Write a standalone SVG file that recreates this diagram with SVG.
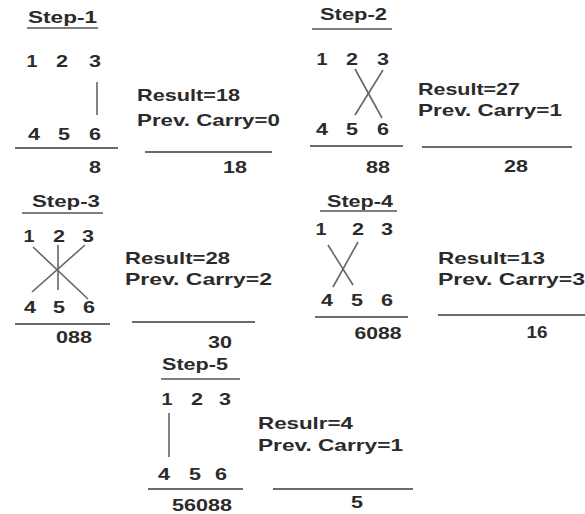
<svg xmlns="http://www.w3.org/2000/svg" width="585" height="514" viewBox="0 0 585 514">
<style>
text{font-family:"Liberation Sans",Arial,sans-serif;font-weight:bold;fill:#2b2b2b}
.st{font-size:16px}
.d{font-size:17px;text-anchor:middle}
.r{font-size:17px}
.n{font-size:17px;text-anchor:middle}
.hl{stroke:#3a3a3a;stroke-width:1.6;fill:none}
.ul{stroke:#555;stroke-width:1.4;fill:none}
.cl{stroke:#666;stroke-width:1.6;fill:none}
</style>
<rect width="585" height="514" fill="#fff"/>
<g id="step1">
<text class="st" x="28" y="23" textLength="69" lengthAdjust="spacingAndGlyphs">Step-1</text>
<line class="ul" x1="27" y1="28" x2="98" y2="28"/>
<text class="d" x="32" y="67" textLength="11" lengthAdjust="spacingAndGlyphs">1</text><text class="d" x="62" y="67" textLength="12" lengthAdjust="spacingAndGlyphs">2</text><text class="d" x="95" y="67" textLength="12" lengthAdjust="spacingAndGlyphs">3</text>
<line class="cl" x1="97" y1="82" x2="97" y2="115"/>
<text class="d" x="34" y="140" textLength="12" lengthAdjust="spacingAndGlyphs">4</text><text class="d" x="64" y="140" textLength="12" lengthAdjust="spacingAndGlyphs">5</text><text class="d" x="95" y="140" textLength="12" lengthAdjust="spacingAndGlyphs">6</text>
<line class="hl" x1="15" y1="148" x2="118" y2="148"/>
<text class="n" x="95" y="173" textLength="12" lengthAdjust="spacingAndGlyphs">8</text>
<text class="r" x="137" y="101" textLength="103" lengthAdjust="spacingAndGlyphs">Result=18</text>
<text class="r" x="137" y="126" textLength="143" lengthAdjust="spacingAndGlyphs">Prev. Carry=0</text>
<line class="hl" x1="145" y1="152" x2="272" y2="152"/>
<text class="n" x="235" y="173" textLength="24" lengthAdjust="spacingAndGlyphs">18</text>
</g>
<g id="step2">
<text class="st" x="320" y="20" textLength="67" lengthAdjust="spacingAndGlyphs">Step-2</text>
<line class="ul" x1="312" y1="29" x2="392" y2="29"/>
<text class="d" x="322" y="65" textLength="11" lengthAdjust="spacingAndGlyphs">1</text><text class="d" x="352" y="65" textLength="12" lengthAdjust="spacingAndGlyphs">2</text><text class="d" x="383" y="65" textLength="12" lengthAdjust="spacingAndGlyphs">3</text>
<line class="cl" x1="355" y1="69" x2="382" y2="118"/>
<line class="cl" x1="383" y1="70" x2="355" y2="115"/>
<text class="d" x="322" y="135" textLength="12" lengthAdjust="spacingAndGlyphs">4</text><text class="d" x="352" y="135" textLength="12" lengthAdjust="spacingAndGlyphs">5</text><text class="d" x="383" y="135" textLength="12" lengthAdjust="spacingAndGlyphs">6</text>
<line class="hl" x1="310" y1="146" x2="403" y2="146"/>
<text class="n" x="378" y="173" textLength="24" lengthAdjust="spacingAndGlyphs">88</text>
<text class="r" x="418" y="95" textLength="102" lengthAdjust="spacingAndGlyphs">Result=27</text>
<text class="r" x="418" y="116" textLength="144" lengthAdjust="spacingAndGlyphs">Prev. Carry=1</text>
<line class="hl" x1="422" y1="147" x2="572" y2="147"/>
<text class="n" x="516" y="172" textLength="24" lengthAdjust="spacingAndGlyphs">28</text>
</g>
<g id="step3">
<text class="st" x="32" y="207" textLength="68" lengthAdjust="spacingAndGlyphs">Step-3</text>
<line class="ul" x1="22" y1="213" x2="103" y2="213"/>
<text class="d" x="29" y="242" textLength="11" lengthAdjust="spacingAndGlyphs">1</text><text class="d" x="59" y="242" textLength="12" lengthAdjust="spacingAndGlyphs">2</text><text class="d" x="88" y="242" textLength="12" lengthAdjust="spacingAndGlyphs">3</text>
<line class="cl" x1="58" y1="245" x2="58" y2="290"/>
<line class="cl" x1="33" y1="247" x2="88" y2="299"/>
<line class="cl" x1="85" y1="245" x2="32" y2="292"/>
<text class="d" x="30" y="313" textLength="12" lengthAdjust="spacingAndGlyphs">4</text><text class="d" x="59" y="313" textLength="12" lengthAdjust="spacingAndGlyphs">5</text><text class="d" x="89" y="313" textLength="12" lengthAdjust="spacingAndGlyphs">6</text>
<line class="hl" x1="15" y1="324" x2="110" y2="324"/>
<text class="n" x="74" y="343" textLength="36" lengthAdjust="spacingAndGlyphs">088</text>
<text class="r" x="125" y="264" textLength="105" lengthAdjust="spacingAndGlyphs">Result=28</text>
<text class="r" x="125" y="285" textLength="147" lengthAdjust="spacingAndGlyphs">Prev. Carry=2</text>
<line class="hl" x1="132" y1="322" x2="255" y2="322"/>
<text class="n" x="220" y="348" textLength="24" lengthAdjust="spacingAndGlyphs">30</text>
</g>
<g id="step4">
<text class="st" x="327" y="207" textLength="66" lengthAdjust="spacingAndGlyphs">Step-4</text>
<line class="ul" x1="320" y1="211" x2="397" y2="211"/>
<text class="d" x="321" y="235" textLength="11" lengthAdjust="spacingAndGlyphs">1</text><text class="d" x="358" y="235" textLength="12" lengthAdjust="spacingAndGlyphs">2</text><text class="d" x="387" y="235" textLength="12" lengthAdjust="spacingAndGlyphs">3</text>
<line class="cl" x1="328" y1="245" x2="353" y2="285"/>
<line class="cl" x1="358" y1="242" x2="333" y2="287"/>
<text class="d" x="327" y="306" textLength="12" lengthAdjust="spacingAndGlyphs">4</text><text class="d" x="357" y="306" textLength="12" lengthAdjust="spacingAndGlyphs">5</text><text class="d" x="387" y="306" textLength="12" lengthAdjust="spacingAndGlyphs">6</text>
<line class="hl" x1="315" y1="317" x2="408" y2="317"/>
<text class="n" x="378" y="339" textLength="47" lengthAdjust="spacingAndGlyphs">6088</text>
<text class="r" x="438" y="264" textLength="107" lengthAdjust="spacingAndGlyphs">Result=13</text>
<text class="r" x="438" y="285" textLength="147" lengthAdjust="spacingAndGlyphs">Prev. Carry=3</text>
<line class="hl" x1="438" y1="315" x2="585" y2="315"/>
<text class="n" x="537" y="338" textLength="21" lengthAdjust="spacingAndGlyphs">16</text>
</g>
<g id="step5">
<text class="st" x="162" y="370" textLength="66" lengthAdjust="spacingAndGlyphs">Step-5</text>
<line class="ul" x1="161" y1="379" x2="240" y2="379"/>
<text class="d" x="167" y="405" textLength="11" lengthAdjust="spacingAndGlyphs">1</text><text class="d" x="197" y="405" textLength="12" lengthAdjust="spacingAndGlyphs">2</text><text class="d" x="225" y="405" textLength="12" lengthAdjust="spacingAndGlyphs">3</text>
<line class="cl" x1="169" y1="413" x2="169" y2="457"/>
<text class="d" x="164" y="480" textLength="12" lengthAdjust="spacingAndGlyphs">4</text><text class="d" x="195" y="480" textLength="12" lengthAdjust="spacingAndGlyphs">5</text><text class="d" x="221" y="480" textLength="12" lengthAdjust="spacingAndGlyphs">6</text>
<line class="hl" x1="148" y1="489" x2="243" y2="489"/>
<text class="n" x="202" y="511" textLength="60" lengthAdjust="spacingAndGlyphs">56088</text>
<text class="r" x="258" y="429" textLength="95" lengthAdjust="spacingAndGlyphs">Resulr=4</text>
<text class="r" x="258" y="451" textLength="145" lengthAdjust="spacingAndGlyphs">Prev. Carry=1</text>
<line class="hl" x1="273" y1="489" x2="413" y2="489"/>
<text class="n" x="357" y="508" textLength="12" lengthAdjust="spacingAndGlyphs">5</text>
</g>
</svg>
